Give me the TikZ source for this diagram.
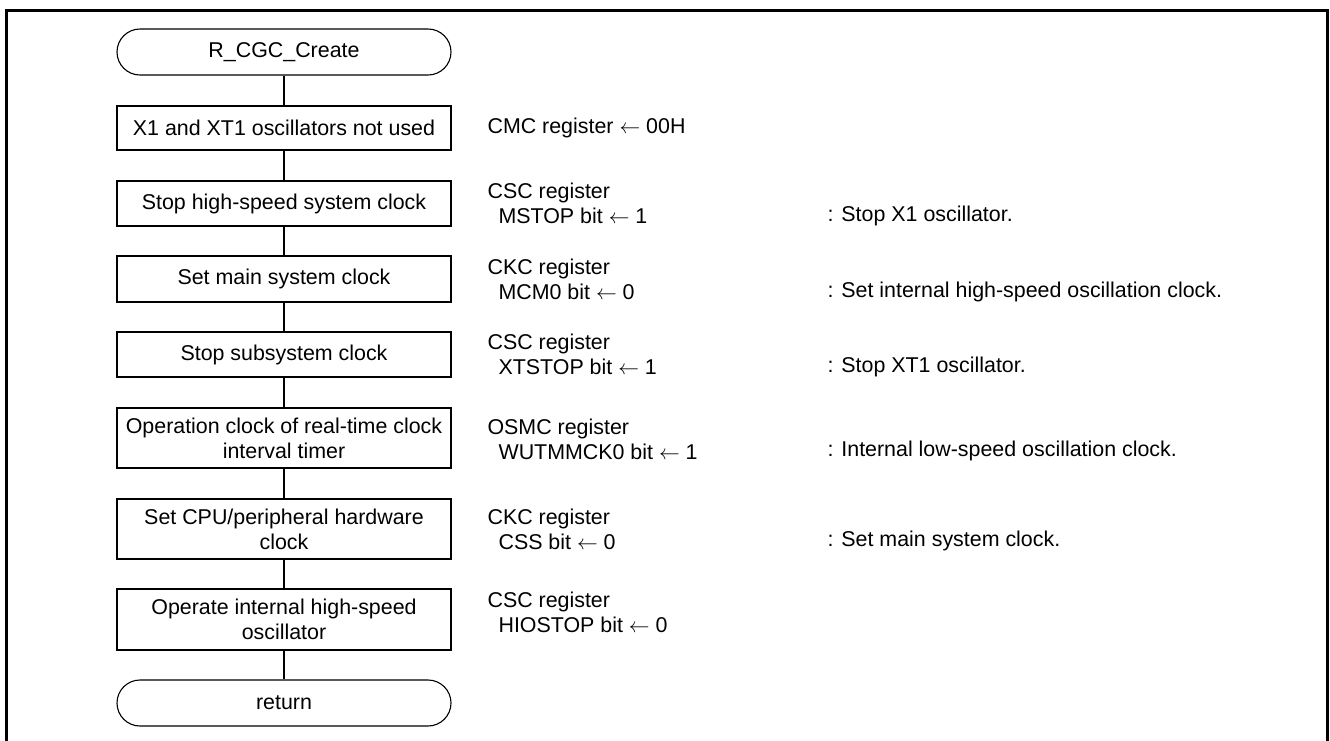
\documentclass[tikz,border=0pt]{standalone}
\usepackage{fontspec}
\setmainfont{Liberation Sans}
\newcommand{\larr}{\ensuremath{\leftarrow}}
\begin{document}
\begin{tikzpicture}[x=1pt,y=-1pt,
  font=\fontsize{21.4}{25}\selectfont,
  line width=1.1pt,
  proc/.style={draw, minimum width=334pt, align=center, inner sep=0pt},
  term/.style={draw, rounded corners=23pt, minimum width=334pt, minimum height=46pt, inner sep=0pt},
  note/.style={anchor=west, align=left, inner sep=0pt},
  frame/.style={line width=3pt}]
\useasboundingbox (0,0) rectangle (1330,740);
\draw[frame] (6.5,741) -- (6.5,10.5) -- (1327.5,10.5) -- (1327.5,741);

\node[term] (start) at (284,52) {R\_CGC\_Create};
\node[proc, minimum height=44pt] (b1) at (284,128) {X1 and XT1 oscillators not used};
\node[proc, minimum height=45pt] (b2) at (284,203.5) {Stop high-speed system clock};
\node[proc, minimum height=46pt] (b3) at (284,279) {Set main system clock};
\node[proc, minimum height=45pt] (b4) at (284,354.5) {Stop subsystem clock};
\node[proc, minimum height=60pt] (b5) at (284,438) {Operation clock of real-time clock\\interval timer};
\node[proc, minimum height=60pt] (b6) at (284,529) {Set CPU/peripheral hardware\\clock};
\node[proc, minimum height=61pt] (b7) at (284,619.5) {Operate internal high-speed\\oscillator};
\node[term] (ret) at (284,703) {return};

\draw (start) -- (b1);
\draw (b1) -- (b2);
\draw (b2) -- (b3);
\draw (b3) -- (b4);
\draw (b4) -- (b5);
\draw (b5) -- (b6);
\draw (b6) -- (b7);
\draw (b7) -- (ret);

\node[note] (n1) at (487,128) {CMC register \larr{} 00H};
\node[note] (n2) at (487,203) {CSC register\\\hspace{11pt}MSTOP bit \larr{} 1};
\node[note] (n3) at (487,279.5) {CKC register\\\hspace{11pt}MCM0 bit \larr{} 0};
\node[note] (n4) at (487,354) {CSC register\\\hspace{11pt}XTSTOP bit \larr{} 1};
\node[note] (n5) at (487,439) {OSMC register\\\hspace{11pt}WUTMMCK0 bit \larr{} 1};
\node[note] (n6) at (487,529) {CKC register\\\hspace{11pt}CSS bit \larr{} 0};
\node[note] (n7) at (487,612) {CSC register\\\hspace{11pt}HIOSTOP bit \larr{} 0};

\node[note] (c2) at (827,216) {: Stop X1 oscillator.};
\node[note] (c3) at (827,292) {: Set internal high-speed oscillation clock.};
\node[note] (c4) at (827,367) {: Stop XT1 oscillator.};
\node[note] (c5) at (827,451) {: Internal low-speed oscillation clock.};
\node[note] (c6) at (827,541) {: Set main system clock.};
\end{tikzpicture}
\end{document}
